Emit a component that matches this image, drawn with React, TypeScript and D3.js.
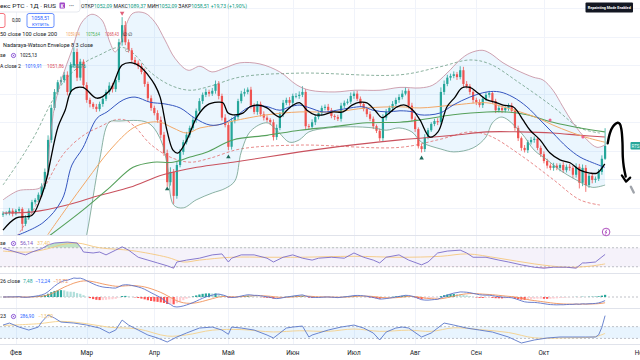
import React, { useRef, useEffect } from 'react';
import * as d3 from 'd3';

const WIDTH = 640;
const HEIGHT = 360;

// daily candles, open = previous close
const firstOpen = 938;
const closes = [
  940, 941, 945, 940, 945, 948, 922, 932, 945, 960,
  964, 973, 988, 1013, 1069, 1125, 1153, 1170, 1174, 1183,
  1153, 1200, 1223, 1178, 1206, 1165, 1139, 1132, 1127, 1123,
  1132, 1141, 1153, 1164, 1158, 1174, 1240, 1270, 1240, 1226,
  1209, 1204, 1198, 1188, 1167, 1142, 1125, 1116, 1104, 1078,
  1046, 995, 1013, 971, 1025, 1048, 1065, 1078, 1090, 1104,
  1120, 1137, 1148, 1153, 1150, 1155, 1167, 1146, 1108, 1095,
  1057, 1102, 1109, 1137, 1150, 1153, 1157, 1129, 1118, 1132,
  1114, 1108, 1104, 1100, 1074, 1090, 1114, 1134, 1139, 1134,
  1146, 1146, 1148, 1153, 1093, 1092, 1100, 1109, 1116, 1125,
  1127, 1121, 1111, 1109, 1106, 1129, 1134, 1136, 1146, 1150,
  1141, 1132, 1123, 1114, 1106, 1093, 1085, 1072, 1108, 1118,
  1125, 1132, 1139, 1144, 1150, 1155, 1129, 1106, 1088, 1058,
  1053, 1074, 1086, 1097, 1102, 1100, 1153, 1167, 1178, 1181,
  1184, 1179, 1191, 1167, 1163, 1153, 1139, 1135, 1130, 1141,
  1148, 1151, 1137, 1121, 1125, 1121, 1125, 1129, 1120, 1090,
  1072, 1055, 1051, 1065, 1069, 1071, 1055, 1044, 1032, 1024,
  1020, 1024, 1020, 1025, 1016, 1022, 1020, 1008, 1022, 994,
  1020, 990, 1006, 999, 1001, 1013, 1036, 1058.51,
];
const upperWicks = [
  4, 3, 5, 4, 3, 4, 3, 5, 4, 4,
  3, 4, 5, 6, 8, 6, 5, 4, 6, 5,
  6, 5, 8, 6, 5, 4, 5, 4, 3, 5,
  4, 5, 4, 6, 5, 4, 6, 14, 7, 5,
  4, 5, 4, 5, 6, 4, 5, 4, 5, 6,
  5, 6, 8, 5, 6, 5, 4, 5, 4, 5,
  4, 5, 4, 6, 4, 5, 6, 5, 4, 6,
  5, 6, 5, 4, 5, 6, 4, 5, 4, 5,
  4, 5, 4, 3, 5, 6, 4, 5, 4, 5,
  4, 5, 6, 10, 5, 4, 5, 4, 3, 4,
  4, 5, 4, 3, 4, 5, 4, 5, 6, 4,
  5, 4, 3, 4, 5, 4, 3, 4, 6, 5,
  4, 5, 4, 5, 6, 6, 4, 5, 4, 3,
  4, 5, 4, 3, 4, 5, 8, 6, 5, 4,
  5, 4, 7, 6, 5, 4, 3, 4, 5, 4,
  5, 4, 3, 4, 5, 4, 3, 4, 5, 4,
  4, 3, 5, 4, 5, 4, 3, 4, 5, 4,
  4, 5, 4, 3, 5, 4, 5, 4, 6, 5,
  6, 5, 4, 5, 4, 5, 6, 31,
];
const lowerWicks = [
  4, 3, 4, 5, 3, 4, 12, 4, 3, 4,
  4, 3, 4, 5, 6, 5, 4, 5, 4, 5,
  6, 5, 4, 6, 5, 4, 5, 6, 4, 5,
  4, 5, 4, 5, 6, 5, 4, 6, 5, 4,
  5, 4, 5, 4, 5, 6, 5, 4, 5, 6,
  5, 8, 6, 14, 5, 4, 5, 4, 5, 4,
  5, 4, 5, 4, 5, 4, 5, 6, 5, 4,
  6, 5, 4, 5, 4, 5, 4, 5, 4, 5,
  4, 5, 4, 5, 6, 5, 4, 5, 4, 5,
  5, 4, 5, 4, 6, 5, 4, 5, 4, 5,
  4, 5, 4, 5, 4, 5, 4, 3, 4, 5,
  4, 5, 4, 5, 4, 5, 4, 5, 6, 5,
  4, 5, 4, 5, 4, 3, 5, 4, 5, 4,
  6, 5, 4, 3, 4, 5, 4, 5, 4, 5,
  4, 5, 4, 5, 4, 5, 6, 5, 4, 5,
  4, 5, 4, 5, 4, 5, 4, 5, 4, 5,
  5, 5, 4, 5, 4, 5, 4, 5, 4, 5,
  4, 5, 4, 6, 5, 4, 5, 6, 5, 10,
  6, 12, 5, 6, 5, 4, 5, 2,
];

const monthNames = ['Фев', 'Мар', 'Апр', 'Май', 'Июн', 'Июл', 'Авг', 'Сен', 'Окт', 'Ноя'];
const monthStartBars = [4, 26, 47, 70, 90, 109, 128, 147, 168, 198];
const gridPrices = [950, 1000, 1050, 1100, 1150, 1200, 1250, 1300];

// header quote of the last bar
const quoteLabels = ['ОТКР', 'МАКС', 'МИН', 'ЗАКР'];
const quoteValues = ['1052,09', '1089,37', '1052,09', '1058,51'];
const quoteChange = '+19,73 (+1,90%)';

// overlay studies: [bar, price]
const emaFast = [
  [0, 911], [4, 932], [9, 937], [11.5, 964], [13.7, 1004], [14.6, 1029], [17.1, 1092], [19.3, 1121],
  [21.4, 1156], [24.8, 1161], [29.2, 1142], [33.2, 1156], [37, 1200], [40.1, 1204], [42.5, 1198],
  [45, 1183], [47.2, 1165], [48.8, 1144], [50.9, 1086], [52.8, 1051], [54.3, 1046], [57.1, 1069],
  [60.2, 1109], [63.4, 1130], [66.8, 1135], [68.3, 1134], [69.9, 1116], [71.4, 1113], [74.5, 1116],
  [76.7, 1127], [79.2, 1130], [82, 1125], [84.5, 1113], [86, 1109], [88.2, 1121], [90.1, 1130],
  [92.2, 1134], [94.4, 1121], [96.9, 1113], [99.4, 1113], [102.5, 1118], [105.6, 1118], [108.4, 1130],
  [110.9, 1135], [113, 1134], [115.5, 1121], [117.7, 1108], [119.3, 1113], [122.4, 1127], [124.8, 1130],
  [127.3, 1121], [129.5, 1104], [132.6, 1074], [135.1, 1083], [137.9, 1127], [140.4, 1144],
  [142.5, 1160], [145, 1161], [147.5, 1151], [150.3, 1139], [152.8, 1135], [155.3, 1130],
  [158.4, 1127], [159.9, 1118], [161.5, 1104], [163.7, 1086], [166.8, 1069], [169.9, 1046],
  [173, 1034], [176.1, 1029], [179.2, 1016], [182.3, 1011], [184.5, 1011], [186.9, 1027],
];
const bbBasis = [
  [3.1, 899], [12.4, 924], [18.3, 964], [21.4, 1025], [24.8, 1055], [29.2, 1107], [32.3, 1118],
  [37.3, 1139], [41, 1144], [45.7, 1135], [50.3, 1132], [55, 1125], [59.6, 1107], [64.3, 1095],
  [68, 1097], [72, 1109], [76.7, 1127], [81.4, 1128], [86, 1121], [89.1, 1127], [92.2, 1130],
  [95.3, 1125], [99.4, 1118], [103.7, 1121], [107.8, 1125], [111.8, 1127], [114.9, 1121],
  [119.3, 1118], [123.3, 1120], [127.3, 1118], [129.5, 1113], [135.7, 1116], [139.8, 1130],
  [145, 1144], [150.3, 1153], [154.3, 1153], [158.4, 1144], [162.7, 1127], [166.8, 1104],
  [170.8, 1081], [175.2, 1056], [179.2, 1039], [183.2, 1029], [186.9, 1021],
];
const bbUpper = [
  [0, 964], [4.7, 980], [11.5, 985], [13.4, 1002], [14.6, 1069], [16.1, 1130], [18.3, 1177],
  [21.4, 1226], [24.5, 1275], [27.6, 1289], [30.7, 1279], [33.2, 1240], [34.8, 1223], [36.3, 1235],
  [38.2, 1270], [40.4, 1291], [44.1, 1291], [47.2, 1275], [50.3, 1244], [53.4, 1212], [57.5, 1191],
  [61.2, 1198], [64.9, 1188], [68.9, 1195], [73.6, 1204], [79.8, 1202], [86, 1188], [91.3, 1165],
  [95.3, 1156], [103.1, 1153], [109.3, 1156], [117.1, 1156], [123.3, 1161], [129.5, 1160],
  [133.5, 1165], [137.9, 1186], [141.9, 1209], [145, 1221], [148.8, 1226], [151.2, 1221],
  [155.3, 1204], [159.6, 1191], [164.6, 1179], [167.7, 1174], [170.8, 1156], [173.9, 1127],
  [177, 1099], [181.4, 1069], [184.5, 1056], [186.9, 1060],
];
const bbLower = [
  [0, 864], [8, 855], [17, 833], [24, 855], [26, 903], [30, 1034], [33, 1100], [36, 1102],
  [45, 1099], [49, 1069], [51, 1025], [53, 955], [56, 950], [60, 964], [65, 976], [69, 984],
  [72, 997], [74, 1048], [77, 1085], [82, 1099], [85, 1086], [89, 1065], [92, 1069], [95, 1083],
  [101, 1090], [108, 1092], [115, 1090], [119, 1086], [123, 1090], [127, 1083], [130, 1065],
  [136, 1053], [140, 1048], [146, 1055], [150, 1074], [152, 1099], [155, 1109], [161, 1081],
  [165, 1051], [169, 1034], [173, 1016], [178, 999], [183, 986], [187, 990],
];
const sma50 = [
  [13.9, 903], [19.9, 951], [26.1, 999], [33.2, 1051], [40.4, 1090], [44.7, 1099], [48.8, 1100],
  [52.8, 1090], [57.1, 1081], [61.2, 1090], [66.5, 1095], [71.4, 1102], [82, 1113], [92.2, 1118],
  [102.5, 1118], [113, 1125], [123.3, 1127], [129.5, 1125], [139.8, 1130], [150.3, 1134],
  [155.3, 1127], [160.6, 1118], [165.8, 1108], [170.8, 1095], [176.1, 1083], [181.4, 1073],
  [186.9, 1065],
];
const sma100 = [
  [13.9, 899], [24.8, 946], [33.2, 986], [40.4, 1021], [46.6, 1030], [52.8, 1030], [58.1, 1039],
  [63.4, 1048], [71.4, 1069], [82, 1077], [92.2, 1086], [102.5, 1092], [113, 1099], [123.3, 1100],
  [129.5, 1104], [139.8, 1113], [150.3, 1118], [156.5, 1118], [162.7, 1113], [170.8, 1100],
  [179.2, 1090], [186.9, 1083],
];
const sma200 = [
  [0, 941], [9.3, 943], [19.9, 955], [30.1, 972], [39.4, 986], [49.7, 1008], [60.2, 1021],
  [71.4, 1030], [82, 1039], [92.2, 1048], [102.5, 1056], [113, 1063], [123.3, 1069], [129.5, 1072],
  [139.8, 1077], [150.3, 1083], [160.6, 1083], [170.8, 1081], [179.2, 1077], [186.9, 1074],
];
const nwUpper = [
  [0, 990], [5.3, 1034], [9.9, 1077], [14.6, 1130], [19.3, 1174], [25.5, 1205], [30.1, 1218],
  [34.8, 1230], [37.9, 1230], [41, 1218], [45.7, 1188], [51.9, 1165], [58.1, 1156], [64.3, 1163],
  [73.6, 1179], [92.2, 1186], [123.3, 1183], [135.7, 1197], [145, 1209], [151.2, 1202],
  [160.6, 1168], [170.8, 1127], [179.2, 1090], [185.4, 1081],
];
const nwLower = [
  [0, 864], [5.3, 908], [9.9, 951], [14.6, 1004], [19.3, 1048], [25.5, 1079], [30.1, 1092],
  [34.8, 1104], [37.9, 1104], [41, 1092], [45.7, 1062], [51.9, 1039], [58.1, 1030], [64.3, 1037],
  [73.6, 1053], [92.2, 1060], [123.3, 1056], [135.7, 1070], [145, 1083], [151.2, 1076],
  [160.6, 1043], [170.8, 1000], [179.2, 964], [185.4, 955],
];

// signal markers: [bar, price]
const sellMarks = [[37, 1291]];
const buyMarks = [[51, 983], [70, 1039], [130, 1037]];
const crossMarks = [[38.5, 1226]];
const pinkMarks = [[169.9, 1104], [180.1, 1074]];

// oscillators: [bar, value]
const rsiLine = [
  [0, 69], [2, 65], [5, 59], [7, 55], [9, 61], [12, 68], [14, 76], [16, 80], [20, 82], [23, 80],
  [24, 72], [25, 61], [28, 59], [30, 61], [32, 55], [35, 65], [37, 72], [39, 65], [42, 50], [45, 44],
  [48, 38], [51, 32], [53, 27], [54, 40], [57, 44], [61, 48], [65, 55], [68, 57], [70, 40], [71, 48],
  [74, 55], [78, 55], [82, 48], [84, 40], [87, 50], [90, 55], [93, 48], [96, 44], [98, 48], [102, 50],
  [106, 48], [109, 59], [112, 50], [115, 44], [117, 38], [119, 50], [123, 55], [126, 44], [130, 34],
  [132, 40], [135, 59], [138, 63], [142, 65], [144, 59], [146, 50], [150, 50], [154, 44], [157, 40],
  [161, 34], [165, 29], [168, 27], [171, 29], [175, 29], [178, 27], [180, 38], [181, 38], [184, 40],
  [187, 56],
];
const rsiSignal = [
  [0, 63], [8, 61], [14, 68], [18, 76], [23, 80], [30, 70], [40, 64], [51, 50], [56, 40], [61, 44],
  [71, 50], [82, 50], [92, 50], [109, 52], [123, 50], [136, 52], [144, 57], [154, 48], [165, 36],
  [175, 29], [182, 31], [187, 36],
];
const cciLine = [
  [0, 127], [2, 161], [5, 93], [8, 42], [11, 93], [12, 178], [14, 297], [16, 246], [18, 178],
  [22, 161], [26, 127], [30, 76], [33, -8], [35, 42], [37, 212], [39, 127], [42, 42], [45, -42],
  [48, -93], [51, -161], [54, -76], [57, -8], [61, 76], [65, 93], [68, 42], [70, -30], [71, 93],
  [74, 76], [78, 42], [82, -42], [84, -93], [88, 76], [90, 93], [93, 110], [95, -76], [96, -42],
  [98, -8], [101, 42], [105, 93], [109, 127], [112, 76], [115, -8], [117, -127], [119, 8], [122, 76],
  [124, 93], [126, 76], [130, -76], [133, -8], [137, 161], [140, 127], [144, 76], [148, 42],
  [152, 8], [157, -76], [161, -178], [165, -127], [169, -93], [173, -76], [177, -76], [181, -76],
  [184, -76], [185, -40], [186, 90], [187, 287],
];
const cciSignal = [
  [0, 120], [11, 150], [18, 190], [26, 150], [33, 90], [42, 60], [51, -60], [57, -40], [65, 40],
  [74, 50], [84, 10], [92, 30], [101, 20], [109, 60], [117, 20], [126, 40], [133, 20], [140, 80],
  [148, 50], [157, 0], [165, -90], [175, -90], [184, -70], [187, -14],
];

// hand-drawn annotation: [bar, price]
const arrowStroke = [
  [187.8, 1063], [188.5, 1081], [189.4, 1092], [190.9, 1099], [191.6, 1097], [192.1, 1086],
  [192.4, 1064], [192.5, 1039], [192.8, 1022], [193.4, 1005],
];
const arrowHead = [[192.2, 1007], [193.5, 996], [194.8, 1003]];
const pencilTip = [[195, 987], [195.9, 977]];

export default function App() {
  const ref = useRef<SVGSVGElement>(null);

  useEffect(() => {
    if (!ref.current) return;
    drawChart(ref.current);
  }, []);

  return (
    <svg
      ref={ref}
      width={WIDTH}
      height={HEIGHT}
      style={{ position: 'absolute', left: 0, top: 0, display: 'block' }}
    />
  );
}

function ema(values: number[], n: number) {
  const k = 2 / (n + 1);
  let e = values[0];
  return values.map((v) => (e = v * k + e * (1 - k)));
}

function drawChart(svgEl: SVGSVGElement) {
  const svg = d3.select(svgEl);
  svg.selectAll('*').remove();
  svg.attr('font-family', 'Roboto, "Noto Sans", sans-serif');
  svg.append('rect').attr('width', WIDTH).attr('height', HEIGHT).attr('fill', '#ffffff');

  const defs = svg.append('defs');
  const clip = (id: string, y0: number, y1: number) =>
    defs.append('clipPath').attr('id', id).append('rect')
      .attr('x', 0).attr('y', y0).attr('width', WIDTH).attr('height', y1 - y0);
  clip('clip-main', 0, 235);
  clip('clip-rsi', 236, 273);
  clip('clip-macd', 274, 308);
  clip('clip-cci', 309, 344);

  const x = d3.scaleLinear().domain([0, closes.length - 1]).range([3, 605.1]);
  const y = d3.scaleLinear().domain([906, 1314]).range([233, 0]);
  const yR = d3.scaleLinear().domain([0, 100]).range([281, 233.5]);
  const yC = d3.scaleLinear().domain([-195, 400]).range([344, 309]);

  // grid
  const grid = svg.append('g').attr('stroke', '#f0f3fa').attr('stroke-width', 1);
  monthStartBars.forEach((b) => {
    const gx = Math.round(x(b)) + 0.5;
    grid.append('line').attr('x1', gx).attr('x2', gx).attr('y1', 0).attr('y2', 344);
  });
  gridPrices.forEach((p) => {
    const gy = Math.round(y(p)) + 0.5;
    grid.append('line').attr('x1', 0).attr('x2', WIDTH).attr('y1', gy).attr('y2', gy);
  });
  [235.5, 273.5, 308.5, 344.5].forEach((sy) => {
    svg.append('line').attr('x1', 0).attr('x2', WIDTH).attr('y1', sy).attr('y2', sy)
      .attr('stroke', '#e0e3eb').attr('stroke-width', 1);
  });

  const smoothLine = (ys: d3.ScaleLinear<number, number>) =>
    d3.line<number[]>().x((d) => x(d[0])).y((d) => ys(d[1])).curve(d3.curveCatmullRom.alpha(0.5));
  const sharpLine = (ys: d3.ScaleLinear<number, number>) =>
    d3.line<number[]>().x((d) => x(d[0])).y((d) => ys(d[1]));

  // ---- main pane
  const main = svg.append('g').attr('clip-path', 'url(#clip-main)');

  const upD = smoothLine(y)(bbUpper) as string;
  const lowRevD = smoothLine(y)([...bbLower].reverse()) as string;
  main.append('path').attr('d', upD + 'L' + lowRevD.slice(1) + 'Z')
    .attr('fill', '#2196f3').attr('fill-opacity', 0.09);

  const addLine = (g: any, data: number[][], gen: any, color: string, w: number, dash?: string) =>
    g.append('path').attr('d', gen(data)).attr('fill', 'none').attr('stroke', color)
      .attr('stroke-width', w).attr('stroke-dasharray', dash || null)
      .attr('stroke-linejoin', 'round');

  addLine(main, nwUpper, smoothLine(y), '#6f9e86', 0.8, '3,2');
  addLine(main, nwLower, smoothLine(y), '#e26d6d', 0.8, '3,2');

  // candles
  const candles = closes.map((c, i) => {
    const o = i === 0 ? firstOpen : closes[i - 1];
    return { i, o, c, h: Math.max(o, c) + upperWicks[i], l: Math.min(o, c) - lowerWicks[i] };
  });
  const up = '#26a69a';
  const down = '#ef5350';
  const cg = main.append('g');
  cg.selectAll('line.wick').data(candles).enter().append('line')
    .attr('x1', (d) => x(d.i)).attr('x2', (d) => x(d.i))
    .attr('y1', (d) => y(d.h)).attr('y2', (d) => y(d.l))
    .attr('stroke', (d) => (d.c >= d.o ? up : down)).attr('stroke-width', 0.8);
  cg.selectAll('rect.body').data(candles).enter().append('rect')
    .attr('x', (d) => x(d.i) - 1.1).attr('width', 2.2)
    .attr('y', (d) => y(Math.max(d.o, d.c)))
    .attr('height', (d) => Math.max(0.8, Math.abs(y(d.o) - y(d.c))))
    .attr('fill', (d) => (d.c >= d.o ? up : down));

  addLine(main, bbUpper, smoothLine(y), '#c48a9c', 0.8);
  addLine(main, bbLower, smoothLine(y), '#6f9e8c', 0.8);
  addLine(main, sma200, smoothLine(y), '#c9525e', 1.1);
  addLine(main, sma100, smoothLine(y), '#55a05a', 1.1);
  addLine(main, sma50, smoothLine(y), '#f3a867', 1.0);
  addLine(main, bbBasis, smoothLine(y), '#3556c0', 1.0);
  addLine(main, emaFast, smoothLine(y), '#000000', 1.3);

  const tri = d3.symbol().type(d3.symbolTriangle).size(9);
  sellMarks.forEach((m) => {
    main.append('path').attr('d', tri() as string)
      .attr('transform', `translate(${x(m[0])},${y(m[1])}) rotate(180)`).attr('fill', '#e0607a');
  });
  buyMarks.forEach((m) => {
    main.append('path').attr('d', tri() as string)
      .attr('transform', `translate(${x(m[0])},${y(m[1])})`).attr('fill', '#1f6b5c');
  });
  crossMarks.forEach((m) => {
    main.append('circle').attr('cx', x(m[0])).attr('cy', y(m[1])).attr('r', 1.4)
      .attr('fill', '#fff').attr('stroke', '#8d8d8d').attr('stroke-width', 0.7);
  });
  pinkMarks.forEach((m) => {
    main.append('circle').attr('cx', x(m[0])).attr('cy', y(m[1])).attr('r', 1.5)
      .attr('fill', '#f06292');
  });

  // ---- RSI pane
  const rsi = svg.append('g').attr('clip-path', 'url(#clip-rsi)');
  rsi.append('rect').attr('x', 0).attr('width', WIDTH).attr('y', yR(70)).attr('height', yR(30) - yR(70))
    .attr('fill', '#7e57c2').attr('fill-opacity', 0.08);
  defs.append('clipPath').attr('id', 'clip-ob').append('rect')
    .attr('x', 0).attr('y', 236).attr('width', WIDTH).attr('height', yR(70) - 236);
  defs.append('clipPath').attr('id', 'clip-os').append('rect')
    .attr('x', 0).attr('y', yR(30)).attr('width', WIDTH).attr('height', 273 - yR(30));
  const obArea = d3.area<number[]>().x((d) => x(d[0])).y0(yR(70)).y1((d) => yR(d[1]));
  const osArea = d3.area<number[]>().x((d) => x(d[0])).y0(yR(30)).y1((d) => yR(d[1]));
  rsi.append('path').attr('d', obArea(rsiLine) as string).attr('clip-path', 'url(#clip-ob)')
    .attr('fill', '#4caf50').attr('fill-opacity', 0.35);
  rsi.append('path').attr('d', osArea(rsiLine) as string).attr('clip-path', 'url(#clip-os)')
    .attr('fill', '#f23645').attr('fill-opacity', 0.3);
  [70, 30].forEach((v) => {
    rsi.append('line').attr('x1', 0).attr('x2', WIDTH).attr('y1', yR(v)).attr('y2', yR(v))
      .attr('stroke', '#9598a1').attr('stroke-width', 0.6).attr('stroke-dasharray', '2,2');
  });
  addLine(rsi, rsiSignal, smoothLine(yR), '#f5c77e', 0.9);
  addLine(rsi, rsiLine, sharpLine(yR), '#7b6cc9', 0.9);

  // ---- MACD pane (computed from closes)
  const e12 = ema(closes, 12);
  const e26 = ema(closes, 26);
  const macd = closes.map((_, i) => e12[i] - e26[i]);
  const signal = ema(macd, 9);
  const hist = macd.map((m, i) => m - signal[i]);
  const yM = d3.scaleLinear().domain([0, d3.max(macd) as number]).range([297, 278]);
  const macdG = svg.append('g').attr('clip-path', 'url(#clip-macd)');
  macdG.append('line').attr('x1', 0).attr('x2', WIDTH).attr('y1', yM(0)).attr('y2', yM(0))
    .attr('stroke', '#9598a1').attr('stroke-width', 0.6).attr('stroke-dasharray', '2,2');
  macdG.selectAll('rect.hist').data(hist).enter().append('rect')
    .attr('x', (_, i) => x(i) - 1.1).attr('width', 2.2)
    .attr('y', (d) => Math.min(yM(d), yM(0)))
    .attr('height', (d) => Math.abs(yM(d) - yM(0)))
    .attr('fill', (d, i) => {
      const prev = i > 0 ? hist[i - 1] : d;
      if (d >= 0) return d >= prev ? '#26a69a' : '#b2dfdb';
      return d <= prev ? '#ff5252' : '#ffcdd2';
    });
  const seriesLine = d3.line<number>().x((_, i) => x(i)).y((d) => yM(d));
  macdG.append('path').attr('d', seriesLine(signal) as string).attr('fill', 'none')
    .attr('stroke', '#f0935a').attr('stroke-width', 0.9);
  macdG.append('path').attr('d', seriesLine(macd) as string).attr('fill', 'none')
    .attr('stroke', '#5b73c9').attr('stroke-width', 0.9);

  // ---- CCI pane
  const cci = svg.append('g').attr('clip-path', 'url(#clip-cci)');
  cci.append('rect').attr('x', 0).attr('width', WIDTH).attr('y', yC(100)).attr('height', yC(-100) - yC(100))
    .attr('fill', '#2196f3').attr('fill-opacity', 0.1);
  [100, -100].forEach((v) => {
    cci.append('line').attr('x1', 0).attr('x2', WIDTH).attr('y1', yC(v)).attr('y2', yC(v))
      .attr('stroke', '#9598a1').attr('stroke-width', 0.6).attr('stroke-dasharray', '2,2');
  });
  addLine(cci, cciSignal, smoothLine(yC), '#f5d08a', 0.9);
  addLine(cci, cciLine, sharpLine(yC), '#5b78c9', 0.9);

  // ---- texts (fitted widths keep the tiny legend rows from colliding)
  const txt = (tx: number, ty: number, s: string, color = '#131722', size = 5, width = 0,
    anchor = 'start', weight = 'normal') => {
    const t = svg.append('text').attr('x', tx).attr('y', ty).text(s).attr('fill', color)
      .attr('font-size', size).attr('text-anchor', anchor).attr('font-weight', weight);
    if (width > 0) t.attr('textLength', width).attr('lengthAdjust', 'spacingAndGlyphs');
    return t;
  };
  const gear = (gx: number, gy: number) => {
    svg.append('circle').attr('cx', gx).attr('cy', gy).attr('r', 2.1)
      .attr('fill', 'none').attr('stroke', '#8e5bd6').attr('stroke-width', 1);
    svg.append('circle').attr('cx', gx).attr('cy', gy).attr('r', 0.7).attr('fill', '#8e5bd6');
  };

  // header
  svg.append('rect').attr('x', -4).attr('y', -2).attr('width', 84).attr('height', 14).attr('rx', 3)
    .attr('fill', '#fff').attr('stroke', '#e0e3eb').attr('stroke-width', 0.8);
  txt(0, 8.3, 'екс РТС · 1Д · RUS', '#131722', 6.2, 56);
  svg.append('rect').attr('x', 59.5).attr('y', 2.5).attr('width', 5.5).attr('height', 6).attr('rx', 1)
    .attr('fill', '#a047c6');
  txt(62.25, 7.6, 'K', '#ffffff', 4.5, 0, 'middle', 'bold');
  txt(69, 7.8, '•••', '#787b86', 5);

  // OHLC row as one naturally flowing text run
  const green = '#089981';
  const quote = svg.append('text').attr('x', 81).attr('y', 8.2).attr('font-size', 5.1);
  quoteLabels.forEach((lab, k) => {
    quote.append('tspan').text(k === 0 ? lab : '  ' + lab).attr('fill', '#131722');
    quote.append('tspan').text(quoteValues[k]).attr('fill', green);
  });
  quote.append('tspan').text('  ' + quoteChange).attr('fill', green);

  svg.append('rect').attr('x', -3).attr('y', 13.5).attr('width', 8).attr('height', 14).attr('rx', 2)
    .attr('fill', '#fff').attr('stroke', '#f23645').attr('stroke-width', 0.7);
  txt(12, 22.3, '0,00', '#131722', 4.6);
  svg.append('rect').attr('x', 27).attr('y', 13.5).attr('width', 27).attr('height', 14).attr('rx', 2)
    .attr('fill', '#fff').attr('stroke', '#2962ff').attr('stroke-width', 0.7);
  txt(40.5, 19.8, '1058,51', '#2962ff', 5.2, 0, 'middle');
  txt(40.5, 25.6, 'КУПИТЬ', '#2962ff', 4.4, 0, 'middle');

  txt(0, 36.3, '50 close 100 close 200', '#131722', 5.4, 57);
  txt(66, 36.3, '1059,04', '#f3a867', 5.4, 14);
  txt(86, 36.3, '1075,64', '#4caf50', 5.4, 14);
  txt(105, 36.3, '1068,43', '#d9505c', 5.4, 14);
  txt(123, 36.3, '∅ ∅', '#131722', 5.2);
  txt(3, 46.8, 'Nadaraya-Watson Envelope 8 3 close', '#131722', 5.4, 90);
  txt(0, 57.3, 'se', '#131722', 5.4);
  gear(13.5, 55.5);
  txt(20, 57.3, '1025,13', '#131722', 5.4, 17);
  txt(0, 67.8, 'A close 2', '#131722', 5.4, 21);
  txt(25, 67.8, '1019,91', '#2962ff', 5.4, 17);
  txt(47, 67.8, '1051,86', '#d9505c', 5.4, 17);
  txt(70, 67.8, '988,76', '#089981', 5.4, 16);

  // pane labels
  txt(0, 245.3, 'se', '#131722', 5.4);
  gear(13.5, 243.5);
  txt(20, 245.3, '56,14', '#7e57c2', 5.4, 13);
  txt(37, 245.3, '37,40', '#f2c46f', 5.4, 13);
  txt(0, 283.3, '26 close', '#131722', 5.4, 20);
  txt(23, 283.3, '7,48', '#26a69a', 5.4, 9.5);
  txt(35, 283.3, '−12,24', '#2962ff', 5.4, 15);
  txt(53, 283.3, '−19,72', '#f0935a', 5.4, 15);
  txt(0, 318.3, '23', '#131722', 5.4);
  gear(13.5, 316.5);
  txt(20, 318.3, '286,90', '#2962ff', 5.4, 14);
  txt(38, 318.3, '−13,70', '#f2c46f', 5.4, 15);

  // time axis
  monthStartBars.forEach((b, k) => {
    txt(x(b), 355, monthNames[k], '#131722', 6.3, 0, 'middle');
  });

  // right-side badges
  const lastY = y(closes[closes.length - 1]);
  svg.append('rect').attr('x', 630.5).attr('y', lastY - 4).attr('width', 12).attr('height', 7.5).attr('rx', 1)
    .attr('fill', '#26a69a');
  txt(631.5, lastY + 1.6, 'RTS', '#e8fff9', 4.6);
  svg.append('rect').attr('x', 585.5).attr('y', 2.5).attr('width', 47.5).attr('height', 10).attr('rx', 1)
    .attr('fill', '#131722');
  txt(609.25, 9.3, 'Repainting Mode Enabled', '#ffffff', 4.4, 43, 'middle', 'bold');

  const bx = x(closes.length - 1) + 1;
  svg.append('circle').attr('cx', bx).attr('cy', 232).attr('r', 3.8)
    .attr('fill', '#fff').attr('stroke', '#9c27b0').attr('stroke-width', 0.8);
  svg.append('path').attr('d', `M${bx + 0.8},${229.6} L${bx - 1},${232.3} L${bx + 0.6},${232.1} L${bx - 0.8},${234.6}`)
    .attr('fill', 'none').attr('stroke', '#9c27b0').attr('stroke-width', 0.7);

  // hand-drawn arrow
  const pen = d3.line<number[]>().x((d) => x(d[0])).y((d) => y(d[1])).curve(d3.curveCatmullRom.alpha(0.5));
  svg.append('path').attr('d', pen(arrowStroke) as string).attr('fill', 'none')
    .attr('stroke', '#000').attr('stroke-width', 2.4).attr('stroke-linecap', 'round').attr('stroke-linejoin', 'round');
  svg.append('path').attr('d', d3.line<number[]>().x((d) => x(d[0])).y((d) => y(d[1]))(arrowHead) as string)
    .attr('fill', 'none').attr('stroke', '#000').attr('stroke-width', 2.2)
    .attr('stroke-linecap', 'round').attr('stroke-linejoin', 'round');
  svg.append('path').attr('d', d3.line<number[]>().x((d) => x(d[0])).y((d) => y(d[1]))(pencilTip) as string)
    .attr('fill', 'none').attr('stroke', '#a0a4ab').attr('stroke-width', 2.4).attr('stroke-linecap', 'round');
}
